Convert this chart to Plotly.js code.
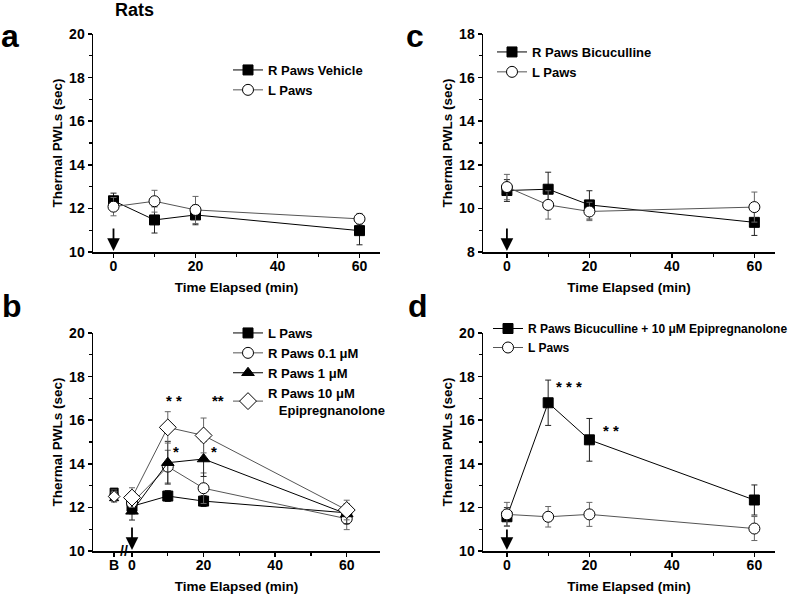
<!DOCTYPE html>
<html>
<head>
<meta charset="utf-8">
<script src="https://cdn.plot.ly/plotly-3.0.1.min.js"></script>
<style>
  body { margin: 0; background: #fff; }
  #chart { width: 800px; height: 599px; }
</style>
</head>
<body>
<div id="chart"></div>
<script>
// time points (min)
const times = [0, 10, 20, 60];
const baseX = [-5];

// panel a
const aVehicle = [12.35, 11.47, 11.7, 10.98];
const aVehicleErr = [0.35, 0.6, 0.45, 0.65];
const aLPaws = [12.08, 12.33, 11.93, 11.52];
const aLPawsErr = [0.42, 0.5, 0.62, 0.25];

// panel b (B = baseline)
const bLPaws = [12.05, 12.52, 12.29, 11.75];
const bLPawsErr = [0.25, 0.25, 0.25, 0.4];
const bR01 = [12.2, 13.87, 12.88, 11.48];
const bR01Err = [0.5, 0.75, 0.7, 0.5];
const bR1 = [11.82, 14.05, 14.22, 11.7];
const bR1Err = [0.4, 0.98, 0.8, 0.45];
const bR10 = [12.45, 15.67, 15.3, 11.88];
const bR10Err = [0.45, 0.72, 0.8, 0.45];
const bBase = [12.7, 12.6, 12.4, 12.5];
const bBaseErr = [0.15, 0.2, 0.15, 0.2];

// panel c
const cBic = [10.82, 10.88, 10.16, 9.36];
const cBicErr = [0.5, 0.78, 0.65, 0.6];
const cLPaws = [10.98, 10.16, 9.86, 10.06];
const cLPawsErr = [0.58, 0.65, 0.42, 0.69];

// panel d
const dBicEpi = [11.57, 16.8, 15.1, 12.34];
const dBicEpiErr = [0.42, 1.04, 0.98, 0.69];
const dLPaws = [11.68, 11.57, 11.68, 11.03];
const dLPawsErr = [0.55, 0.47, 0.55, 0.55];

// significance marks
const starsB = [{x: 11.6, y: 16.9, t: '* *'}, {x: 24, y: 16.9, t: '**'}, {x: 12.2, y: 14.55, t: '*'}, {x: 22.8, y: 14.55, t: '*'}];
const starsD = [{x: 15, y: 17.55, t: '* * *'}, {x: 25.2, y: 15.55, t: '* *'}];

const F = 'Arial, "Liberation Sans", sans-serif';

function series(x, y, err, name, sym, fill, ax, leg, opts) {
  opts = opts || {};
  const dark = fill === 'black';
  return {
    x: x, y: y, name: name, type: 'scatter',
    mode: opts.mode || 'lines+markers',
    xaxis: ax[0], yaxis: ax[1], legend: leg,
    showlegend: opts.showlegend !== false,
    line: { color: dark ? '#000' : '#555', width: 1 },
    marker: { symbol: sym, size: opts.size || 10, color: fill, line: { color: '#000', width: 1 } },
    error_y: { type: 'data', array: err, color: dark ? '#222' : '#666', thickness: 1, width: 3 }
  };
}

const traces = [
  series(times, aVehicle, aVehicleErr, 'R Paws Vehicle', 'square', 'black', ['x', 'y'], 'legend'),
  series(times, aLPaws, aLPawsErr, 'L Paws', 'circle', 'white', ['x', 'y'], 'legend', {size: 11}),

  series(times, cBic, cBicErr, 'R Paws Bicuculline', 'square', 'black', ['x2', 'y2'], 'legend2'),
  series(times, cLPaws, cLPawsErr, 'L Paws', 'circle', 'white', ['x2', 'y2'], 'legend2', {size: 11}),

  series(times, bLPaws, bLPawsErr, 'L Paws', 'square', 'black', ['x3', 'y3'], 'legend3'),
  series(times, bR01, bR01Err, 'R Paws 0.1 \u03bcM', 'circle', 'white', ['x3', 'y3'], 'legend3', {size: 11}),
  series(times, bR1, bR1Err, 'R Paws 1 \u03bcM', 'triangle-up', 'black', ['x3', 'y3'], 'legend3', {size: 11}),
  series(times, bR10, bR10Err, 'R Paws 10 \u03bcM<br>\u00a0\u00a0\u00a0Epipregnanolone', 'diamond', 'white', ['x3', 'y3'], 'legend3', {size: 13}),
  series(baseX, [bBase[0]], [bBaseErr[0]], 'L Paws', 'square', 'black', ['x3', 'y3'], 'legend3', {mode: 'markers', showlegend: false, size: 8}),
  series(baseX, [bBase[1]], [bBaseErr[1]], 'R Paws 0.1', 'circle', 'white', ['x3', 'y3'], 'legend3', {mode: 'markers', showlegend: false, size: 8}),
  series(baseX, [bBase[2]], [bBaseErr[2]], 'R Paws 1', 'triangle-up', 'black', ['x3', 'y3'], 'legend3', {mode: 'markers', showlegend: false, size: 8}),
  series(baseX, [bBase[3]], [bBaseErr[3]], 'R Paws 10', 'diamond', 'white', ['x3', 'y3'], 'legend3', {mode: 'markers', showlegend: false, size: 9}),

  series(times, dBicEpi, dBicEpiErr, 'R Paws Bicuculline + 10 \u03bcM Epipregnanolone', 'square', 'black', ['x4', 'y4'], 'legend4'),
  series(times, dLPaws, dLPawsErr, 'L Paws', 'circle', 'white', ['x4', 'y4'], 'legend4', {size: 11})
];

const tickF = { family: F, size: 14, color: '#000', weight: 'bold' };
const titleF = { family: F, size: 13.5, color: '#000', weight: 'bold' };

function xAxis(domain, anchor, range, extra) {
  return Object.assign({
    domain: domain, anchor: anchor, range: range,
    showline: true, linecolor: '#000', linewidth: 1.5,
    ticks: 'outside', ticklen: 4, tickwidth: 1.5, tickcolor: '#000',
    ticklabelstandoff: -3,
    tickvals: [0, 20, 40, 60],
    minor: { tickvals: [10, 30, 50], ticklen: 3, tickwidth: 1.2, tickcolor: '#000', ticks: 'outside' },
    showgrid: false, zeroline: false, tickfont: tickF,
    title: { text: 'Time Elapsed (min)', font: titleF, standoff: 9 }
  }, extra || {});
}

function yAxis(domain, anchor, range, dtick) {
  return {
    domain: domain, anchor: anchor, range: range,
    showline: true, linecolor: '#000', linewidth: 1.5,
    ticks: 'outside', ticklen: 4, tickwidth: 1.5, tickcolor: '#000',
    dtick: dtick,
    minor: { dtick: 1, ticklen: 3, tickwidth: 1.2, tickcolor: '#000', ticks: 'outside' },
    showgrid: false, zeroline: false, tickfont: tickF,
    title: { text: 'Thermal PWLs (sec)', font: titleF, standoff: 3 }
  };
}

const leftD = [93 / 800, 380 / 800];
const rightD = [483 / 800, 775 / 800];
const topD = [1 - 252 / 599, 1 - 34 / 599];
const botD = [1 - 551 / 599, 1 - 333 / 599];

function arrow(xr, yr, top, bottom) {
  return { x: 0, y: bottom, ax: 0, ay: top, xref: xr, yref: yr, axref: xr, ayref: yr,
    text: '', showarrow: true, arrowhead: 2, arrowsize: 1.4, arrowwidth: 1.8, arrowcolor: '#000' };
}

function star(s, xr, yr) {
  return { x: s.x, y: s.y, xref: xr, yref: yr, text: s.t, showarrow: false,
    font: { family: F, size: 15, color: '#000', weight: 'bold' } };
}

function label(t, px, py, size) {
  return { x: px / 800, y: 1 - py / 599, xref: 'paper', yref: 'paper', text: t, showarrow: false,
    xanchor: 'center', yanchor: 'middle', font: { family: F, size: size, color: '#000', weight: 'bold' } };
}

function legend(px, py, size) {
  return { x: px / 800, y: 1 - py / 599, xanchor: 'left', yanchor: 'top',
    font: { family: F, size: size || 13, color: '#000', weight: 'bold' },
    bgcolor: 'rgba(0,0,0,0)', borderwidth: 0, tracegroupgap: 0 };
}

const annotations = [
  label('Rats', 134, 10, 18),
  label('a', 10, 36, 32),
  label('c', 415, 36, 32),
  label('b', 12, 306, 32),
  label('d', 418, 306, 32),
  arrow('x', 'y', 11.15, 10.05),
  arrow('x2', 'y2', 9.15, 8.05),
  arrow('x3', 'y3', 11.15, 10.05),
  arrow('x4', 'y4', 11.05, 10.05),
  { x: -2.3, y: 10, xref: 'x3', yref: 'y3', text: '//', showarrow: false,
    font: { family: F, size: 14, color: '#000', weight: 'bold' } }
].concat(starsB.map(s => star(s, 'x3', 'y3')), starsD.map(s => star(s, 'x4', 'y4')));

const layout = {
  width: 800, height: 599,
  margin: { l: 0, r: 0, t: 0, b: 0, autoexpand: false },
  paper_bgcolor: '#fff', plot_bgcolor: '#fff',
  font: { family: F, color: '#000' },
  xaxis: xAxis(leftD, 'y', [-5, 65]),
  yaxis: yAxis(topD, 'x', [10, 20], 2),
  xaxis2: xAxis(rightD, 'y2', [-5.8, 65]),
  yaxis2: yAxis(topD, 'x2', [8, 18], 2),
  xaxis3: xAxis(leftD, 'y3', [-10.9, 69.3], {
    tickvals: [-5, 0, 20, 40, 60], ticktext: ['B', '0', '20', '40', '60']
  }),
  yaxis3: yAxis(botD, 'x3', [10, 20], 2),
  xaxis4: xAxis(rightD, 'y4', [-5.8, 65]),
  yaxis4: yAxis(botD, 'x4', [10, 20], 2),
  showlegend: true,
  legend: legend(228, 55),
  legend2: legend(492, 37),
  legend3: legend(228, 318),
  legend4: legend(488, 314, 12),
  annotations: annotations
};

Plotly.newPlot('chart', traces, layout, { staticPlot: true });
</script>
</body>
</html>
